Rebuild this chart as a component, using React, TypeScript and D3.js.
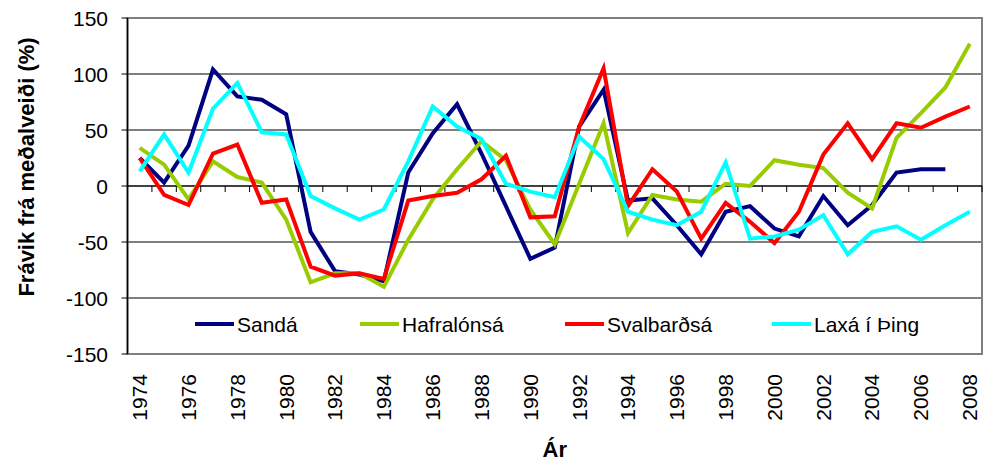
import React from "react";
import * as d3 from "d3";

const years: number[] = [
  1974, 1975, 1976, 1977, 1978, 1979, 1980, 1981, 1982, 1983, 1984, 1985,
  1986, 1987, 1988, 1989, 1990, 1991, 1992, 1993, 1994, 1995, 1996, 1997,
  1998, 1999, 2000, 2001, 2002, 2003, 2004, 2005, 2006, 2007, 2008,
];

const sanda: (number | null)[] = [
  25, 3, 36, 104, 80, 77, 64, -41, -76, -79, -85, 12, 47, 73, 29, -18, -65,
  -55, 53, 86, -13, -11, -35, -61, -23, -18, -38, -45, -9, -35, -17, 12, 15,
  15, null,
];
const hafralonsa: (number | null)[] = [
  34, 19, -12, 22, 8, 3, -30, -86, -78, -78, -90, -48, -12, 15, 40, 23, -21,
  -52, 2, 56, -42, -8, -12, -14, 2, 0, 23, 19, 16, -6, -20, 43, 65, 88, 127,
];
const svalbardsa: (number | null)[] = [
  25, -8, -17, 29, 37, -15, -12, -72, -80, -78, -83, -13, -9, -6, 6, 27, -28,
  -27, 53, 105, -18, 15, -5, -47, -15, -32, -51, -23, 28, 56, 24, 56, 52, 62,
  71,
];
const laxa: (number | null)[] = [
  13, 46, 12, 69, 92, 48, 46, -9, -20, -30, -21, 22, 71, 53, 42, 2, -5, -10,
  44, 24, -23, -30, -35, -23, 21, -47, -45, -39, -26, -61, -41, -36, -48, -35,
  -23,
];

const seriesNames = ["Sandá", "Hafralónsá", "Svalbarðsá", "Laxá í Þing"];
const seriesColors = ["#000080", "#99CC00", "#FF0000", "#00FFFF"];
const seriesData = [sanda, hafralonsa, svalbardsa, laxa];

const yTicks = [150, 100, 50, 0, -50, -100, -150];
const xTickLabels = years.filter((y) => (y - 1974) % 2 === 0);

const W = 985;
const H = 466;
const left = 127.5;
const right = 982;
const top = 18;
const bottom = 354;
const FONT = "'Liberation Sans', Arial, sans-serif";

export default function App() {
  const x = d3
    .scaleBand<number>()
    .domain(years)
    .range([left, right])
    .paddingInner(0)
    .paddingOuter(0);
  const cx = (yr: number) => (x(yr) as number) + x.bandwidth() / 2;
  const y = d3.scaleLinear().domain([-150, 150]).range([bottom, top]);

  const line = d3
    .line<[number, number | null]>()
    .defined((d) => d[1] != null)
    .x((d) => cx(d[0]))
    .y((d) => y(d[1] as number));

  const legendX = [195, 360, 565, 772];
  const legendY = 324;

  return (
    <svg
      width={W}
      height={H}
      style={{ position: "absolute", left: 0, top: 0, background: "#fff" }}
      fontFamily={FONT}
    >
      {/* gridlines */}
      {yTicks
        .filter((t) => t !== 150 && t !== -150 && t !== 0)
        .map((t) => (
          <line
            key={"g" + t}
            x1={left}
            x2={right}
            y1={y(t)}
            y2={y(t)}
            stroke="#000"
            strokeWidth={1}
          />
        ))}
      {/* plot border */}
      <rect
        x={left}
        y={top}
        width={right - left}
        height={bottom - top}
        fill="none"
        stroke="#808080"
        strokeWidth={2}
      />
      {/* y axis */}
      <line x1={left} x2={left} y1={top} y2={bottom} stroke="#000" strokeWidth={1.5} />
      {yTicks.map((t) => (
        <g key={"yt" + t}>
          <line x1={left - 6} x2={left} y1={y(t)} y2={y(t)} stroke="#000" strokeWidth={1} />
          <text
            x={108}
            y={y(t)}
            dy="0.36em"
            textAnchor="end"
            fontSize={21}
            fill="#000"
          >
            {t}
          </text>
        </g>
      ))}
      {/* x axis at zero */}
      <line x1={left} x2={right} y1={y(0)} y2={y(0)} stroke="#000" strokeWidth={1.5} />
      {years.map((yr) => (
        <line
          key={"xt" + yr}
          x1={(x(yr) as number) + x.bandwidth()}
          x2={(x(yr) as number) + x.bandwidth()}
          y1={y(0)}
          y2={y(0) + 6}
          stroke="#000"
          strokeWidth={1}
        />
      ))}
      {/* series */}
      {seriesData.map((s, i) => (
        <path
          key={"s" + i}
          d={line(years.map((yr, j) => [yr, s[j]] as [number, number | null])) || ""}
          fill="none"
          stroke={seriesColors[i]}
          strokeWidth={4}
          strokeLinejoin="miter"
        />
      ))}
      {/* legend */}
      {seriesNames.map((n, i) => (
        <g key={"l" + i}>
          <line
            x1={legendX[i]}
            x2={legendX[i] + 39}
            y1={legendY}
            y2={legendY}
            stroke={seriesColors[i]}
            strokeWidth={4}
          />
          <text x={legendX[i] + 42} y={legendY} dy="0.36em" fontSize={21} fill="#000">
            {n}
          </text>
        </g>
      ))}
      {/* x tick labels */}
      {xTickLabels.map((yr) => (
        <text
          key={"xl" + yr}
          transform={`translate(${cx(yr)},374) rotate(-90)`}
          textAnchor="end"
          dy="0.35em"
          fontSize={21}
          fill="#000"
        >
          {yr}
        </text>
      ))}
      {/* axis titles */}
      <text
        x={(left + right) / 2}
        y={457}
        textAnchor="middle"
        fontSize={22}
        fontWeight="bold"
        fill="#000"
      >
        Ár
      </text>
      <text
        transform={`translate(34,167) rotate(-90)`}
        textAnchor="middle"
        fontSize={22}
        fontWeight="bold"
        fill="#000"
      >
        Frávik frá meðalveiði (%)
      </text>
    </svg>
  );
}
